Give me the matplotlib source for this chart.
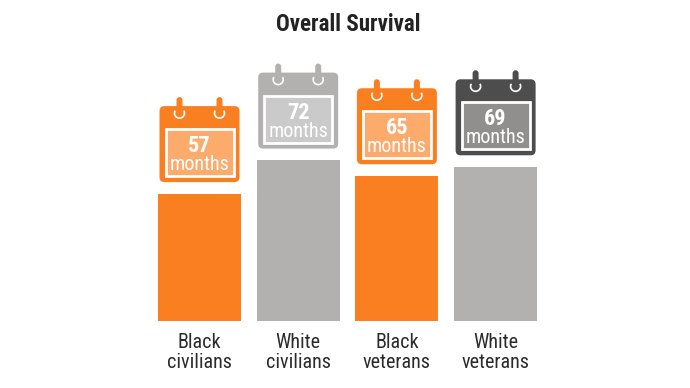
import matplotlib
matplotlib.use('Agg')
import matplotlib.pyplot as plt
from matplotlib.patches import FancyBboxPatch, Rectangle, Arc

# values
groups = ['Black\ncivilians', 'White\ncivilians', 'Black\nveterans', 'White\nveterans']
months = [57, 72, 65, 69]
bar_colors = ['#F97F20', '#B2B1AF', '#F97F20', '#B2B1AF']
body_colors = ['#F97F20', '#B2B1AF', '#F97F20', '#4D4D4D']
panel_colors = ['#FCAB6C', '#CBCACA', '#FCAB6C', '#918F8E']

W, H = 690, 388
plt.rcParams['font.family'] = ['Roboto Condensed', 'Archivo Narrow', 'DejaVu Sans']

fig = plt.figure(figsize=(W / 100, H / 100), dpi=100)

# bars: 98.7 px per category, 2.235 px per month, baseline at y=321
ax = fig.add_axes([0, 0, 1, 1])
ax.set_xlim((0 - 199.5) / 98.7, (W - 199.5) / 98.7)
ax.set_ylim(-(H - 321) / 2.235, 321 / 2.235)
ax.axis('off')
xs = range(len(groups))
ax.bar(xs, months, width=0.84, color=bar_colors, linewidth=0)

# overlay in pixel coordinates for the calendars and text
ov = fig.add_axes([0, 0, 1, 1])
ov.set_xlim(0, W)
ov.set_ylim(H, 0)
ov.axis('off')
ov.patch.set_alpha(0)


def calendar(cx, bottom, value, body, panel):
    top = bottom - 76
    ov.add_patch(FancyBboxPatch((cx - 39, top + 1), 78, 74,
                                boxstyle='round,pad=1,rounding_size=5',
                                fc=body, ec='none', zorder=2))
    # white rings, then the pegs over them
    for dx in (-20, 20):
        ov.add_patch(Arc((cx + dx, top + 7), 10, 10, theta1=-30, theta2=210,
                         color='white', lw=1.2, zorder=3))
        ov.add_patch(FancyBboxPatch((cx + dx - 2, top - 8), 4, 12,
                                    boxstyle='round,pad=1,rounding_size=3',
                                    fc=body, ec='none', zorder=4))
    ov.add_patch(Rectangle((cx - 34, top + 23), 68, 47, fc=panel, ec='white',
                           lw=2, zorder=4))
    ov.text(cx, top + 46, str(value), color='white', fontsize=16, fontweight='bold',
            ha='center', va='baseline', zorder=5)
    ov.text(cx, top + 64, 'months', color='white', fontsize=14.5,
            ha='center', va='baseline', zorder=5)


for i, m in enumerate(months):
    px, py = ov.transData.inverted().transform(ax.transData.transform((i, m)))
    calendar(px, py - 11.5, m, body_colors[i], panel_colors[i])
    a, b = groups[i].split('\n')
    ov.text(px, 348, a, color='#2B2B2B', fontsize=14.5, ha='center', va='baseline')
    ov.text(px, 368, b, color='#2B2B2B', fontsize=14.5, ha='center', va='baseline')

ov.text(348.5, 31, 'Overall Survival', color='#222222', fontsize=16.5, fontweight='bold',
        ha='center', va='baseline')

fig.savefig('out.png', dpi=100)
